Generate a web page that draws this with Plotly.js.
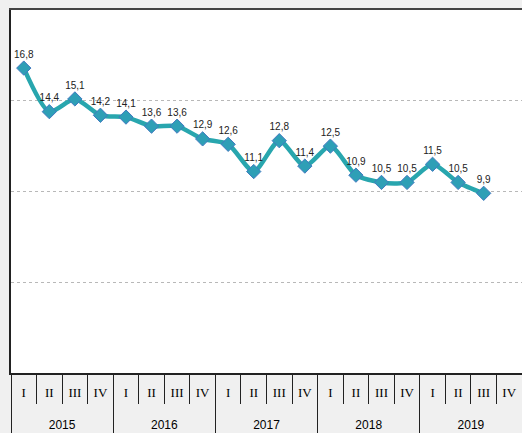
<!DOCTYPE html>
<html>
<head>
<meta charset="utf-8">
<script src="https://cdn.plot.ly/plotly-3.0.1.min.js"></script>
<style>html,body{margin:0;padding:0;background:#f0f0f0;overflow:hidden;}#chart{width:522px;height:433px;}</style>
</head>
<body>
<div id="chart"></div>
<script>
const years = ['2015','2016','2017','2018','2019'];
const quarters = ['I','II','III','IV'];
const values = [16.8, 14.4, 15.1, 14.2, 14.1, 13.6, 13.6, 12.9, 12.6, 11.1, 12.8, 11.4, 12.5, 10.9, 10.5, 10.5, 11.5, 10.5, 9.9, null];

// categories: one per quarter, e.g. "2015 I"
const categories = [], quarterText = [];
years.forEach(y => quarters.forEach(q => { categories.push(y + ' ' + q); quarterText.push(q); }));
const n = categories.length;
const labels = values.map(v => v == null ? '' : v.toFixed(1).replace('.', ','));
const quarterBounds = [], yearBounds = [], yearCenters = [];
for (let i = 0; i <= n; i++) quarterBounds.push(i - 0.5);
for (let k = 0; k <= years.length; k++) yearBounds.push(k * quarters.length - 0.5);
for (let k = 0; k < years.length; k++) yearCenters.push(k * quarters.length + (quarters.length - 1) / 2);

const trace = {
  type: 'scatter', mode: 'lines+markers+text',
  x: categories, y: values,
  text: labels, textposition: 'top center',
  textfont: {family: 'Liberation Sans Narrow, Arial Narrow, Liberation Sans, sans-serif', size: 10, color: '#222'},
  line: {color: '#28a6ae', width: 4.5, shape: 'spline', smoothing: 0.7},
  marker: {symbol: 'diamond', size: 11, color: '#2e9fb6', line: {color: '#4179c0', width: 1}},
  cliponaxis: false, hoverinfo: 'skip', showlegend: false
};
const dummy = ax => ({type: 'scatter', x: [0], y: [null], xaxis: ax, yaxis: 'y', showlegend: false, hoverinfo: 'skip'});

const range = [-0.5, n - 0.5];
const base = {overlaying: 'x', anchor: 'y', side: 'bottom', range: range, tickmode: 'array',
  showgrid: false, zeroline: false, showline: false};

const layout = {
  width: 522, height: 433,
  margin: {l: 11, r: 0, t: 10, b: 60},
  paper_bgcolor: '#f0f0f0', plot_bgcolor: '#ffffff',
  xaxis: {
    type: 'category', range: range, tickmode: 'array', tickvals: categories, ticktext: quarterText,
    ticks: '', showgrid: false, showline: true, linecolor: '#222', linewidth: 2, mirror: false,
    ticklabelstandoff: 6,
    tickfont: {family: 'Liberation Serif, DejaVu Serif, serif', size: 13, color: '#000'}
  },
  xaxis2: Object.assign({}, base, {tickvals: quarterBounds, ticks: 'outside', ticklen: 30,
    tickcolor: '#222', tickwidth: 1, showticklabels: false}),
  xaxis3: Object.assign({}, base, {tickvals: yearBounds, ticks: 'outside', ticklen: 62,
    tickcolor: '#222', tickwidth: 1, showticklabels: false}),
  xaxis4: Object.assign({}, base, {tickvals: yearCenters, ticktext: years, ticks: '',
    showticklabels: true, ticklabelstandoff: 43,
    tickfont: {family: 'Liberation Sans, sans-serif', size: 12, color: '#000'}}),
  xaxis5: Object.assign({}, base, {side: 'top', tickvals: [], ticks: '', showticklabels: false,
    showline: true, linecolor: '#444', linewidth: 2}),
  yaxis: {
    range: [0, 20], dtick: 5, showticklabels: false, ticks: '', mirror: false,
    showgrid: true, gridcolor: '#b8b8b8', griddash: 'dot', gridwidth: 1,
    zeroline: false, showline: true, linecolor: '#222', linewidth: 2
  }
};
Plotly.newPlot('chart', [trace, dummy('x2'), dummy('x3'), dummy('x4'), dummy('x5')], layout, {staticPlot: true});
</script>
</body>
</html>
